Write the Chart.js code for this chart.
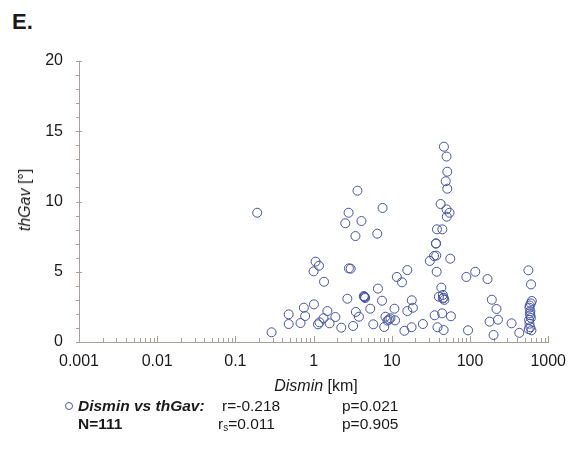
<!DOCTYPE html>
<html>
<head>
<meta charset="utf-8">
<script src="https://cdn.jsdelivr.net/npm/chart.js@4.4.1/dist/chart.umd.min.js"></script>
<style>
	body{ margin:0; background:#fff; }
	#contenedor{ position:relative; width:576px; height:450px; background:#fff; font-family:Arial, 'Liberation Sans', sans-serif; color:#1a1a1a; }
	#grafico{ position:absolute; left:0; top:0; }
	#letra{ position:absolute; left:12px; top:9px; font-size:22px; font-weight:bold; }
	#tituloY{ position:absolute; left:25px; top:200px; font-size:16px; white-space:nowrap; transform:translate(-50%,-50%) rotate(-90deg); }
	#tituloX{ position:absolute; left:316px; top:386px; font-size:16px; white-space:nowrap; transform:translate(-50%,-50%); }
	.fila{ position:absolute; font-size:15.5px; line-height:18px; white-space:nowrap; }
	.marca{ position:absolute; width:6px; height:6px; border:1px solid #4352a2; border-radius:50%; }
	sub{ font-size:10px; vertical-align:-2px; }
</style>
</head>
<body>
<div id="contenedor">
	<div id="letra">E.</div>
	<canvas id="grafico" width="576" height="450"></canvas>
	<div id="tituloY"><i>thGav</i> [°]</div>
	<div id="tituloX"><i>Dismin</i> [km]</div>
	<!-- leyenda con estadisticas -->
	<div class="marca" style="left:65px;top:402px;"></div>
	<div class="fila" style="left:78px;top:397px;"><b><i>Dismin vs thGav:</i></b></div>
	<div class="fila" style="left:222px;top:397px;">r=-0.218</div>
	<div class="fila" style="left:342px;top:397px;">p=0.021</div>
	<div class="fila" style="left:78px;top:415px;"><b>N=111</b></div>
	<div class="fila" style="left:218px;top:415px;">r<sub>s</sub>=0.011</div>
	<div class="fila" style="left:342px;top:415px;">p=0.905</div>
</div>
<script>
// datos
var dismin = [0.19, 0.29, 0.48, 0.48, 0.68, 0.75, 0.78, 1.01, 1.06, 1.17,
	1.0, 1.36, 1.14, 1.19, 1.34, 1.5, 1.6, 1.9, 2.26, 2.7,
	2.83, 2.98, 3.64, 2.8, 2.54, 4.09, 3.43, 7.62, 6.52, 4.39,
	4.56, 4.5, 6.65, 11.6, 13.5, 15.8, 3.47, 3.8, 5.3, 7.5,
	10.8, 18.0, 18.6, 15.8, 3.2, 5.8, 8.0, 8.3, 8.8, 9.6,
	11.0, 14.5, 17.9, 25, 35.3, 38.4, 46, 44, 57, 43,
	45, 40, 45, 47, 30.6, 34.7, 37, 37.5, 36.8, 37.8,
	44.3, 42.1, 50.1, 54.7, 50.5, 55.9, 46.4, 50.1, 51.2, 48.9,
	51.2, 94.4, 89.8, 116.7, 167.5, 190, 218, 178, 228, 200,
	340, 427, 558, 603, 617, 600, 576, 592, 583, 592,
	570, 576, 590, 563, 610, 600, 580, 4.45, 9.2, 36.6, 46];
var thGav = [9.2, 0.69, 1.97, 1.28, 1.35, 2.44, 1.85, 2.68, 5.72, 5.43,
	5.03, 4.29, 1.26, 1.4, 1.69, 2.2, 1.33, 1.78, 1.02, 3.08,
	5.24, 5.22, 10.77, 9.2, 8.45, 8.61, 7.54, 9.54, 7.71, 3.27,
	3.13, 3.2, 3.8, 4.63, 4.25, 5.12, 2.14, 1.8, 2.37, 2.94,
	2.37, 2.97, 2.44, 2.2, 1.14, 1.26, 1.07, 1.8, 1.52, 1.69,
	1.54, 0.8, 1.05, 1.28, 1.9, 1.05, 0.85, 2.04, 1.83, 3.87,
	3.35, 3.22, 3.1, 3.0, 5.77, 6.12, 6.15, 5.0, 7.02, 8.02,
	8.02, 9.82, 9.44, 9.2, 8.92, 5.93, 13.9, 13.2, 12.12, 11.44,
	10.91, 0.83, 4.63, 5.0, 4.48, 3.01, 2.35, 1.45, 1.59, 0.5,
	1.33, 0.65, 5.1, 4.1, 2.92, 2.75, 2.44, 2.2, 2.04, 1.9,
	1.57, 1.3, 1.05, 0.92, 0.83, 1.72, 2.6, 3.22, 1.6, 7.0, 3.15];

var xTicks = [0.001, 0.01, 0.1, 1, 10, 100, 1000];
var xTickLabels = ['0.001', '0.01', '0.1', '1', '10', '100', '1000'];
var yTicks = [0, 5, 10, 15, 20];

var colorEje = '#a79f97';
var colorPunto = '#4352a2';

var puntos = [];
for (var i = 0; i < dismin.length; i++) {
	puntos.push({x: dismin[i], y: thGav[i]});
}

// marcas pequeñas de los ejes (menores y mayores)
var marcasEjes = {
	id: 'marcasEjes',
	beforeDatasetsDraw: function (chart) {
		var c = chart.ctx, sx = chart.scales.x, sy = chart.scales.y, a = chart.chartArea;
		c.save();
		c.strokeStyle = colorEje;
		c.lineWidth = 1;
		c.beginPath();
		for (var e = -3; e < 3; e++) {
			for (var m = 1; m <= 9; m++) {
				var px = Math.round(sx.getPixelForValue(m * Math.pow(10, e))) + 0.5;
				var largo = (m == 1) ? 6 : 4;
				c.moveTo(px, a.bottom);
				c.lineTo(px, a.bottom - largo);
			}
		}
		var pxFin = Math.round(sx.getPixelForValue(1000)) + 0.5;
		c.moveTo(pxFin, a.bottom);
		c.lineTo(pxFin, a.bottom - 6);
		for (var v = 0; v <= 20; v++) {
			var py = Math.round(sy.getPixelForValue(v)) + 0.5;
			if (v % 5 == 0) {
				c.moveTo(a.left - 3, py);
				c.lineTo(a.left + 3, py);
			} else {
				c.moveTo(a.left - 3, py);
				c.lineTo(a.left, py);
			}
		}
		c.stroke();
		c.restore();
	}
};

var ctx = document.getElementById('grafico').getContext('2d');
window.graficoDismin = new Chart(ctx, {
	type: 'scatter',
	data: {
		datasets: [{
			label: 'Dismin vs thGav',
			data: puntos,
			pointStyle: 'circle',
			pointRadius: 4.5,
			pointHoverRadius: 4.5,
			borderWidth: 1,
			borderColor: colorPunto,
			backgroundColor: 'rgba(0,0,0,0)'
		}]
	},
	options: {
		responsive: false,
		animation: false,
		layout: { padding: { left: 0, right: 23, top: 61, bottom: 78 } },
		plugins: {
			legend: { display: false },
			tooltip: { enabled: false }
		},
		scales: {
			x: {
				type: 'logarithmic',
				min: 0.001,
				max: 1000,
				grid: { display: false, drawTicks: false },
				border: { display: true, color: colorEje, width: 1 },
				afterBuildTicks: function (s) {
					s.ticks = xTicks.map(function (v) { return {value: v}; });
				},
				ticks: {
					autoSkip: false,
					maxRotation: 0,
					padding: 10,
					color: '#1a1a1a',
					font: { family: "Arial, 'Liberation Sans', sans-serif", size: 16 },
					callback: function (v, i) { return xTickLabels[i]; }
				},
				afterFit: function (s) { s.height = 30; }
			},
			y: {
				min: 0,
				max: 20,
				grid: { display: false, drawTicks: false },
				border: { display: true, color: colorEje, width: 1 },
				afterBuildTicks: function (s) {
					s.ticks = yTicks.map(function (v) { return {value: v}; });
				},
				ticks: {
					padding: 16,
					color: '#1a1a1a',
					font: { family: "Arial, 'Liberation Sans', sans-serif", size: 16 }
				},
				afterFit: function (s) { s.width = 79; }
			}
		}
	},
	plugins: [marcasEjes]
});
</script>
</body>
</html>
